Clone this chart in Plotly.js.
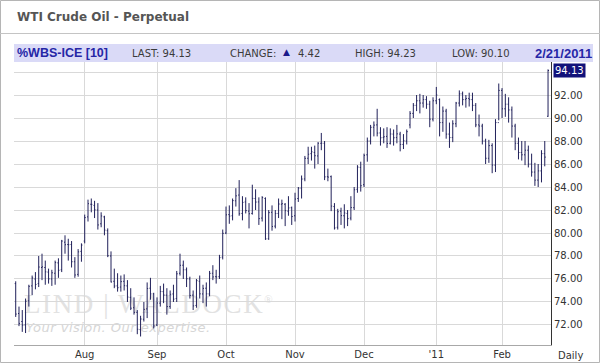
<!DOCTYPE html>
<html><head><meta charset="utf-8">
<script src="https://cdn.plot.ly/plotly-3.0.1.min.js"></script>
<style>html,body{margin:0;padding:0;background:#fff;}#chart{width:600px;height:363px;}</style>
</head><body><div id="chart"></div>
<script>
// ---- Data (daily OHLC, WTI Crude Oil perpetual) ----
const dates = [
'2010-07-01','2010-07-02','2010-07-06','2010-07-07','2010-07-08','2010-07-09','2010-07-12','2010-07-13','2010-07-14','2010-07-15','2010-07-16','2010-07-19','2010-07-20','2010-07-21','2010-07-22','2010-07-23','2010-07-26','2010-07-27','2010-07-28','2010-07-29','2010-07-30',
'2010-08-02','2010-08-03','2010-08-04','2010-08-05','2010-08-06','2010-08-09','2010-08-10','2010-08-11','2010-08-12','2010-08-13','2010-08-16','2010-08-17','2010-08-18','2010-08-19','2010-08-20','2010-08-23','2010-08-24','2010-08-25','2010-08-26','2010-08-27','2010-08-30','2010-08-31',
'2010-09-01','2010-09-02','2010-09-03','2010-09-07','2010-09-08','2010-09-09','2010-09-10','2010-09-13','2010-09-14','2010-09-15','2010-09-16','2010-09-17','2010-09-20','2010-09-21','2010-09-22','2010-09-23','2010-09-24','2010-09-27','2010-09-28','2010-09-29','2010-09-30',
'2010-10-01','2010-10-04','2010-10-05','2010-10-06','2010-10-07','2010-10-08','2010-10-11','2010-10-12','2010-10-13','2010-10-14','2010-10-15','2010-10-18','2010-10-19','2010-10-20','2010-10-21','2010-10-22','2010-10-25','2010-10-26','2010-10-27','2010-10-28','2010-10-29',
'2010-11-01','2010-11-02','2010-11-03','2010-11-04','2010-11-05','2010-11-08','2010-11-09','2010-11-10','2010-11-11','2010-11-12','2010-11-15','2010-11-16','2010-11-17','2010-11-18','2010-11-19','2010-11-22','2010-11-23','2010-11-24','2010-11-26','2010-11-29','2010-11-30',
'2010-12-01','2010-12-02','2010-12-03','2010-12-06','2010-12-07','2010-12-08','2010-12-09','2010-12-10','2010-12-13','2010-12-14','2010-12-15','2010-12-16','2010-12-17','2010-12-20','2010-12-21','2010-12-22','2010-12-23','2010-12-27','2010-12-28','2010-12-29','2010-12-30','2010-12-31',
'2011-01-03','2011-01-04','2011-01-05','2011-01-06','2011-01-07','2011-01-10','2011-01-11','2011-01-12','2011-01-13','2011-01-14','2011-01-18','2011-01-19','2011-01-20','2011-01-21','2011-01-24','2011-01-25','2011-01-26','2011-01-27','2011-01-28','2011-01-31',
'2011-02-01','2011-02-02','2011-02-03','2011-02-04','2011-02-07','2011-02-08','2011-02-09','2011-02-10','2011-02-11','2011-02-14','2011-02-15','2011-02-16','2011-02-17','2011-02-18','2011-02-21'];

const open = [
75.6,73.0,72.3,72.0,74.1,75.4,76.0,75.6,77.0,77.0,76.6,76.0,76.5,77.4,76.8,79.2,79.0,79.0,77.5,76.4,78.4,
79.3,81.4,82.5,82.4,82.0,80.8,81.4,80.2,78.0,75.8,75.4,75.3,75.8,75.4,74.4,73.5,73.1,71.6,72.5,73.4,75.2,74.7,
72.0,73.9,74.9,74.6,73.6,74.7,74.3,76.5,77.2,76.8,76.0,74.6,73.7,75.8,74.7,75.2,74.7,76.5,76.2,76.2,77.9,
80.0,81.6,81.5,82.8,83.3,81.7,82.7,81.9,81.7,83.0,82.7,81.3,83.0,79.5,81.8,80.6,81.7,82.5,82.5,81.9,82.2,
81.5,83.0,83.9,84.7,86.5,86.9,87.0,86.7,87.8,87.8,84.9,84.9,82.3,80.5,81.9,81.5,81.7,81.3,82.2,83.8,85.7,
84.2,86.8,88.0,89.2,89.4,88.7,88.3,88.4,87.8,88.6,88.3,88.6,87.7,88.0,89.4,90.4,91.1,91.5,91.3,91.6,91.2,89.9,
91.5,91.6,89.6,90.6,88.6,88.3,89.5,91.3,92.1,91.6,91.7,91.6,91.1,89.4,89.3,88.0,86.5,87.6,85.9,89.6,
92.4,90.8,91.2,90.7,89.3,87.8,87.0,86.8,87.2,86.0,85.3,84.6,85.4,86.9,90.15];

const high = [
75.8,73.6,73.3,74.3,75.5,76.3,76.6,78.0,78.2,77.6,76.9,76.8,77.6,77.8,79.4,79.8,79.5,79.3,77.9,78.6,79.1,
81.6,82.9,83.0,82.8,82.6,81.8,81.5,80.4,78.4,76.9,76.5,76.3,76.4,75.9,75.2,74.4,73.3,72.8,74.0,75.7,76.1,74.8,
74.4,75.4,75.6,75.2,75.0,75.5,76.7,78.2,77.6,77.0,76.2,75.0,76.0,76.3,75.5,75.7,76.7,77.2,76.8,78.1,80.3,
82.3,82.4,83.0,83.9,84.6,83.2,83.1,82.6,84.2,83.8,83.1,83.2,83.1,82.0,82.4,82.0,83.0,82.9,82.6,83.2,82.3,
83.5,84.0,85.0,86.7,87.5,87.5,87.6,87.9,88.7,88.0,85.6,85.0,82.6,82.1,82.2,82.5,82.0,83.2,84.0,85.9,86.2,
86.9,88.3,89.4,89.7,90.8,89.2,89.1,89.2,89.1,89.0,89.4,88.8,88.6,89.0,90.6,91.3,92.0,92.1,92.0,91.9,91.5,91.8,
92.7,91.7,91.0,90.8,89.6,89.8,91.4,92.4,92.3,92.0,92.2,92.2,91.3,90.3,89.5,88.2,88.1,87.8,89.9,93.0,
92.6,92.1,91.8,91.0,89.5,88.3,88.0,88.0,87.6,86.9,86.1,86.0,87.2,88.0,94.23];

const low = [
72.7,71.9,71.4,71.3,73.6,74.6,75.1,75.3,75.9,75.5,75.6,75.4,75.5,76.1,76.6,78.2,77.6,77.0,76.1,76.2,77.5,
79.1,81.0,81.8,81.3,80.3,80.5,79.8,77.9,75.7,75.2,74.9,74.9,75.0,74.0,73.3,72.9,71.2,71.0,72.3,72.6,74.2,71.7,
71.9,73.6,73.9,72.9,73.4,74.0,74.0,76.3,76.0,75.3,74.3,73.3,73.5,74.3,73.9,73.6,74.5,75.9,75.6,76.0,77.7,
79.9,80.8,81.1,82.3,81.5,81.1,81.7,80.4,81.6,82.0,80.7,81.0,79.4,79.4,80.2,80.4,81.3,81.2,80.6,81.5,80.7,
81.0,82.7,83.0,84.5,86.0,86.3,85.6,86.0,87.2,84.6,84.5,81.9,80.3,80.3,80.7,80.4,80.6,81.1,82.0,83.5,83.6,
84.0,86.2,87.7,88.4,88.4,87.6,87.8,87.4,87.7,87.6,87.8,87.1,87.3,87.7,89.1,90.0,90.6,90.4,90.9,90.8,89.2,89.7,
91.2,88.4,88.8,88.2,87.4,87.9,89.2,91.0,91.1,90.9,91.0,90.6,89.2,88.4,87.7,86.0,86.1,85.2,85.3,89.8,
90.0,90.1,89.6,88.3,87.2,86.4,86.3,85.9,85.7,84.9,84.1,84.0,84.4,85.8,90.10];

const close = [
72.95,72.14,71.98,74.07,75.36,76.09,75.52,77.04,77.06,76.62,76.01,76.54,77.43,76.76,79.30,78.98,78.98,77.50,76.35,78.36,78.95,
81.34,82.55,82.49,82.01,80.70,81.48,80.25,78.02,75.74,75.39,75.24,75.77,75.42,74.43,73.46,73.10,71.63,72.52,73.36,75.17,74.70,71.92,
73.91,74.91,74.60,73.60,74.67,74.25,76.45,77.19,76.80,76.02,74.57,73.66,75.86,74.71,75.18,74.71,76.49,76.18,76.18,77.86,79.97,
81.58,81.47,82.82,83.23,81.67,82.66,81.95,81.67,83.01,82.69,81.25,83.08,79.49,81.77,80.56,81.69,82.52,82.55,81.94,82.18,81.43,
82.95,83.90,84.69,86.49,86.85,87.06,86.72,87.81,87.81,84.88,84.86,82.34,80.44,81.85,81.51,81.74,81.25,82.21,83.76,85.73,84.11,
86.75,88.00,89.19,89.38,88.69,88.28,88.37,87.79,88.61,88.28,88.62,87.70,88.02,88.81,90.40,91.10,91.50,91.30,91.60,91.20,89.90,91.50,
92.00,89.60,90.60,88.60,88.30,89.50,91.30,92.10,91.60,91.70,91.60,91.10,89.40,89.30,88.00,86.50,87.60,85.90,89.60,92.40,
90.80,91.20,90.70,89.30,87.80,87.00,86.80,87.20,86.00,85.30,84.60,85.40,86.90,86.60,94.13];

// axis ticks
const monthTickVals = ['2010-08-02','2010-09-01','2010-10-01','2010-11-01','2010-12-01','2011-01-03','2011-02-01'];
const monthTickText = ['Aug','Sep','Oct','Nov','Dec',"'11",'Feb'];
const priceTicks = [72,74,76,78,80,82,84,86,88,90,92,94];
const priceTickText = ['72.00','74.00','76.00','78.00','80.00','82.00','84.00','86.00','88.00','90.00','92.00',''];

// header values
const symbol = '%WBS-ICE [10]';
const lastPrice = 94.13, change = 4.42, dayHigh = 94.23, dayLow = 90.10, lastDate = '2/21/2011';

// ---- geometry helpers (pixel -> paper) ----
const ML = 14, MR = 49, MT = 62, MB = 18, W = 600, H = 363;
const PW = W - ML - MR, PH = H - MT - MB;
const px = x => (x - ML) / PW;
const py = y => (H - MB - y) / PH;

const navy = '#20205a';
const trace = {
  type: 'ohlc', x: dates, open: open, high: high, low: low, close: close,
  increasing: {line: {color: navy, width: 1}},
  decreasing: {line: {color: navy, width: 1}},
  tickwidth: 0.3, hoverinfo: 'skip', showlegend: false
};

const wm = '<svg xmlns="http://www.w3.org/2000/svg" width="' + PW + '" height="' + PH + '" viewBox="0 0 ' + PW + ' ' + PH + '">' +
  '<text x="10" y="251" font-family="Liberation Serif" font-size="27" letter-spacing="1.6" fill="#e2e2e2">LIND | WALDOCK<tspan font-size="11" dy="-10">®</tspan></text>' +
  '<text x="12" y="270" font-family="DejaVu Sans" font-style="italic" font-size="13" letter-spacing="0.5" fill="#d6d6d6">Your vision. Our expertise.</text></svg>';

const hdrFont = {family: 'DejaVu Sans', size: 10, color: '#3a3a3a'};
const ann = (text, x, y, extra) => Object.assign({text: text, xref: 'paper', yref: 'paper', x: px(x), y: py(y), xanchor: 'left', yanchor: 'middle', showarrow: false, font: hdrFont}, extra || {});

const layout = {
  width: W, height: H,
  margin: {l: ML, r: MR, t: MT, b: MB, pad: 0},
  paper_bgcolor: '#ffffff', plot_bgcolor: '#ffffff',
  showlegend: false, hovermode: false,
  xaxis: {
    type: 'category', range: [-0.52, dates.length - 0.1],
    rangeslider: {visible: false},
    tickmode: 'array', tickvals: monthTickVals, ticktext: monthTickText,
    showgrid: true, gridcolor: '#d9d9d9', gridwidth: 1,
    showline: true, linecolor: '#a8a8a8', linewidth: 1,
    ticks: '', tickfont: {family: 'DejaVu Sans', size: 10, color: '#333'},
    zeroline: false, fixedrange: true
  },
  yaxis: {
    side: 'right', range: [70.26, 94.87],
    tickmode: 'array', tickvals: priceTicks, ticktext: priceTickText,
    showgrid: true, gridcolor: '#d9d9d9', gridwidth: 1,
    showline: true, linecolor: '#333', linewidth: 1,
    ticks: '', tickfont: {family: 'DejaVu Sans', size: 10, color: '#333'},
    zeroline: false, fixedrange: true
  },
  images: [{
    source: 'data:image/svg+xml;charset=utf-8,' + encodeURIComponent(wm),
    xref: 'paper', yref: 'paper', x: 0, y: 1, sizex: 1, sizey: 1,
    xanchor: 'left', yanchor: 'top', sizing: 'stretch', layer: 'below'
  }],
  shapes: [
    {type: 'rect', xref: 'paper', yref: 'paper', x0: px(0.5), x1: px(599.5), y0: py(362.5), y1: py(0.5), line: {color: '#b5b5b5', width: 1}},
    {type: 'line', xref: 'paper', yref: 'paper', x0: px(0), x1: px(600), y0: py(33.5), y1: py(33.5), line: {color: '#c4c4c4', width: 1}},
    {type: 'rect', xref: 'paper', yref: 'paper', x0: px(14), x1: px(593), y0: py(62), y1: py(44), fillcolor: '#dadaf7', line: {width: 0}}
  ],
  annotations: [
    ann('<b>WTI Crude Oil - Perpetual</b>', 15, 17, {font: {family: 'DejaVu Sans', size: 12, color: '#555'}}),
    ann('<b>' + symbol + '</b>', 15, 53, {font: {family: 'Liberation Sans', size: 12.5, color: '#2626a6'}}),
    ann('LAST: ' + lastPrice.toFixed(2), 130, 53),
    ann('CHANGE:', 228, 53),
    ann('▲', 281, 52, {font: {family: 'DejaVu Sans', size: 9, color: '#1a1a8a'}}),
    ann(change.toFixed(2), 296, 53),
    ann('HIGH: ' + dayHigh.toFixed(2), 353, 53),
    ann('LOW: ' + dayLow.toFixed(2), 450, 53),
    ann('<b>' + lastDate + '</b>', 533, 53, {font: {family: 'Liberation Sans', size: 13, color: '#2626a6'}}),
    {text: lastPrice.toFixed(2), xref: 'paper', yref: 'y', x: px(553), y: lastPrice, xanchor: 'left', yanchor: 'middle',
     showarrow: false, bgcolor: '#12127a', borderpad: 1, font: {family: 'DejaVu Sans', size: 10, color: '#ffffff'}},
    {text: 'Daily', xref: 'paper', yref: 'paper', x: px(570), y: py(355), xanchor: 'center', yanchor: 'middle',
     showarrow: false, font: {family: 'DejaVu Sans', size: 10, color: '#333'}}
  ]
};

Plotly.newPlot('chart', [trace], layout, {displayModeBar: false, staticPlot: true});
</script></body></html>
